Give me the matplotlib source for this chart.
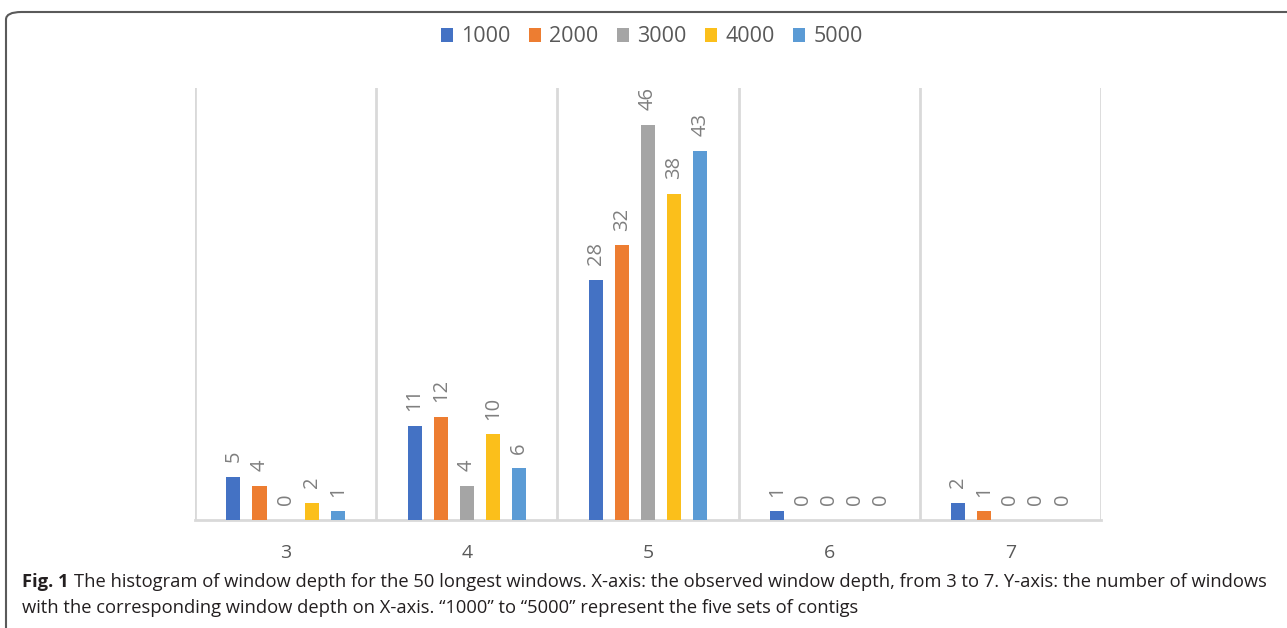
import matplotlib.pyplot as plt
import numpy as np
from matplotlib.patches import FancyBboxPatch

# Window depth histogram data
depths = ["3", "4", "5", "6", "7"]
series_names = ["1000", "2000", "3000", "4000", "5000"]
counts_1000 = [5, 11, 28, 1, 2]
counts_2000 = [4, 12, 32, 0, 1]
counts_3000 = [0, 4, 46, 0, 0]
counts_4000 = [2, 10, 38, 0, 0]
counts_5000 = [1, 6, 43, 0, 0]
colors = ["#4472C4", "#ED7D31", "#A5A5A5", "#FBBF1B", "#5B9BD5"]

plt.rcParams['font.family'] = ['Open Sans', 'DejaVu Sans']

fig = plt.figure(figsize=(12.87, 6.28), dpi=100)

# outer frame around chart and caption
frame = FancyBboxPatch((6 / 1287, -0.05), 1.2, 1.05 - 12 / 628,
                       boxstyle="round,pad=0,rounding_size=0.012",
                       transform=fig.transFigure, fill=False,
                       edgecolor="#5a5a5a", linewidth=1.5, clip_on=False)
fig.add_artist(frame)

ax = fig.add_axes([195 / 1287, 1 - 520 / 628, (1101 - 195) / 1287, (520 - 88) / 628])

all_counts = [counts_1000, counts_2000, counts_3000, counts_4000, counts_5000]
x = np.arange(len(depths))
bar_w = 0.078
step = 0.144
for i, (vals, col, name) in enumerate(zip(all_counts, colors, series_names)):
    pos = x + (i - 2) * step
    bars = ax.bar(pos, vals, width=bar_w, color=col, label=name, zorder=3)
    for b, v in zip(bars, vals):
        ax.annotate(str(v), (b.get_x() + b.get_width() / 2, v),
                    xytext=(0, 10.5), textcoords="offset points",
                    rotation=90, ha="center", va="bottom",
                    fontsize=14.5, color="#7f7f7f")

ax.set_xlim(-0.5, len(depths) - 0.5)
ax.set_ylim(0, 50.3)
ax.set_yticks([])
ax.set_xticks(x)
ax.set_xticklabels(depths, fontsize=14, color="#595959")
ax.tick_params(axis="x", length=0, pad=17)
for s in ["top", "right", "left"]:
    ax.spines[s].set_visible(False)
ax.spines["bottom"].set_color("#d9d9d9")
ax.spines["bottom"].set_linewidth(2)
for b in np.arange(-0.5, len(depths), 1.0):
    ax.axvline(b, color="#d9d9d9", linewidth=2, zorder=1)

leg = fig.legend(loc="center", bbox_to_anchor=(652 / 1287, 1 - 37 / 628), ncol=5,
                 frameon=False, fontsize=15.5, handlelength=0.55, handleheight=0.65,
                 handletextpad=0.4, columnspacing=0.85, labelcolor="#595959")

# caption: bold figure label followed by the description
cap_size = 13.2
cap_color = "#231f20"
y1 = 1 - 582 / 628
y2 = 1 - 608 / 628
lab = fig.text(22 / 1287, y1, "Fig. 1", fontsize=cap_size, fontweight="bold",
               color=cap_color, va="center", ha="left")
fig.canvas.draw()
bb = lab.get_window_extent(fig.canvas.get_renderer())
fig.text((bb.x1 + 5) / 1287, y1,
         "The histogram of window depth for the 50 longest windows. X-axis: the observed window depth, from 3 to 7. Y-axis: the number of windows",
         fontsize=cap_size, color=cap_color, va="center", ha="left")
fig.text(22 / 1287, y2,
         "with the corresponding window depth on X-axis. \u201c1000\u201d to \u201c5000\u201d represent the five sets of contigs",
         fontsize=cap_size, color=cap_color, va="center", ha="left")

fig.savefig("out.png", dpi=100)
